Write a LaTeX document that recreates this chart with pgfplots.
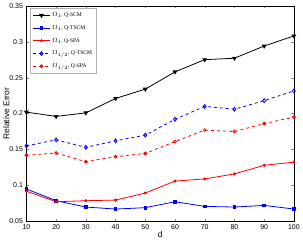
\documentclass[border=0pt]{standalone}
\usepackage{fontspec}
\setmainfont{Liberation Sans}
\newfontfamily\legfont{Liberation Serif}
\usepackage{pgfplots}
\pgfplotsset{compat=1.18}
\begin{document}
\begin{tikzpicture}
\begin{axis}[
  scale only axis, width=268bp, height=216bp,
  xmin=10, xmax=100, ymin=0.05, ymax=0.35,
  xtick={10,20,...,100}, ytick={0.05,0.1,0.15,0.2,0.25,0.3,0.35},
  scaled ticks=false,
  /pgf/number format/fixed, /pgf/number format/precision=2,
  /pgf/number format/assume math mode=true,
  tick label style={font=\fontsize{7}{8}\selectfont},
  tick align=inside, tick pos=both, major tick length=2.5bp,
  xlabel={d}, ylabel={Relative Error},
  label style={font=\fontsize{8.5}{10}\selectfont},
  xlabel style={yshift=5bp}, ylabel style={yshift=-7bp},
  every axis plot/.append style={line width=0.8pt},
  legend style={font=\legfont\fontsize{5.6}{6.5}\selectfont, draw=gray!60, inner xsep=2pt, inner ysep=2.5pt, row sep=3.2pt, at={(0.015,0.99)}, anchor=north west},
  legend cell align=left,
]
\addplot[black, mark=triangle*, mark options={rotate=180}, mark size=2pt] coordinates {
(10,0.202)(20,0.196)(30,0.201)(40,0.221)(50,0.234)(60,0.258)(70,0.275)(80,0.277)(90,0.294)(100,0.308)};
\addlegendentry{$\Omega_1$, Q-SCM}
\addplot[blue, mark=square*, mark size=1.3pt] coordinates {
(10,0.095)(20,0.0787)(30,0.0699)(40,0.0671)(50,0.069)(60,0.0773)(70,0.0708)(80,0.0699)(90,0.0722)(100,0.0671)};
\addlegendentry{$\Omega_1$, Q-TSCM}
\addplot[red, mark=*, mark size=1.1pt] coordinates {
(10,0.092)(20,0.0773)(30,0.0787)(40,0.0796)(50,0.0894)(60,0.106)(70,0.109)(80,0.116)(90,0.128)(100,0.1324)};
\addlegendentry{$\Omega_1$, Q-SPA}
\addplot[blue, dashed, mark=diamond, mark size=2pt, mark options={solid}] coordinates {
(10,0.155)(20,0.1634)(30,0.153)(40,0.162)(50,0.170)(60,0.192)(70,0.210)(80,0.206)(90,0.218)(100,0.2315)};
\addlegendentry{$\Omega_{1/2}$, Q-TSCM}
\addplot[red, dashed, mark=o, mark size=1.5pt, mark options={solid}] coordinates {
(10,0.142)(20,0.145)(30,0.133)(40,0.140)(50,0.1444)(60,0.161)(70,0.177)(80,0.175)(90,0.186)(100,0.195)};
\addlegendentry{$\Omega_{1/2}$, Q-SPA}
\end{axis}
\end{tikzpicture}
\end{document}
